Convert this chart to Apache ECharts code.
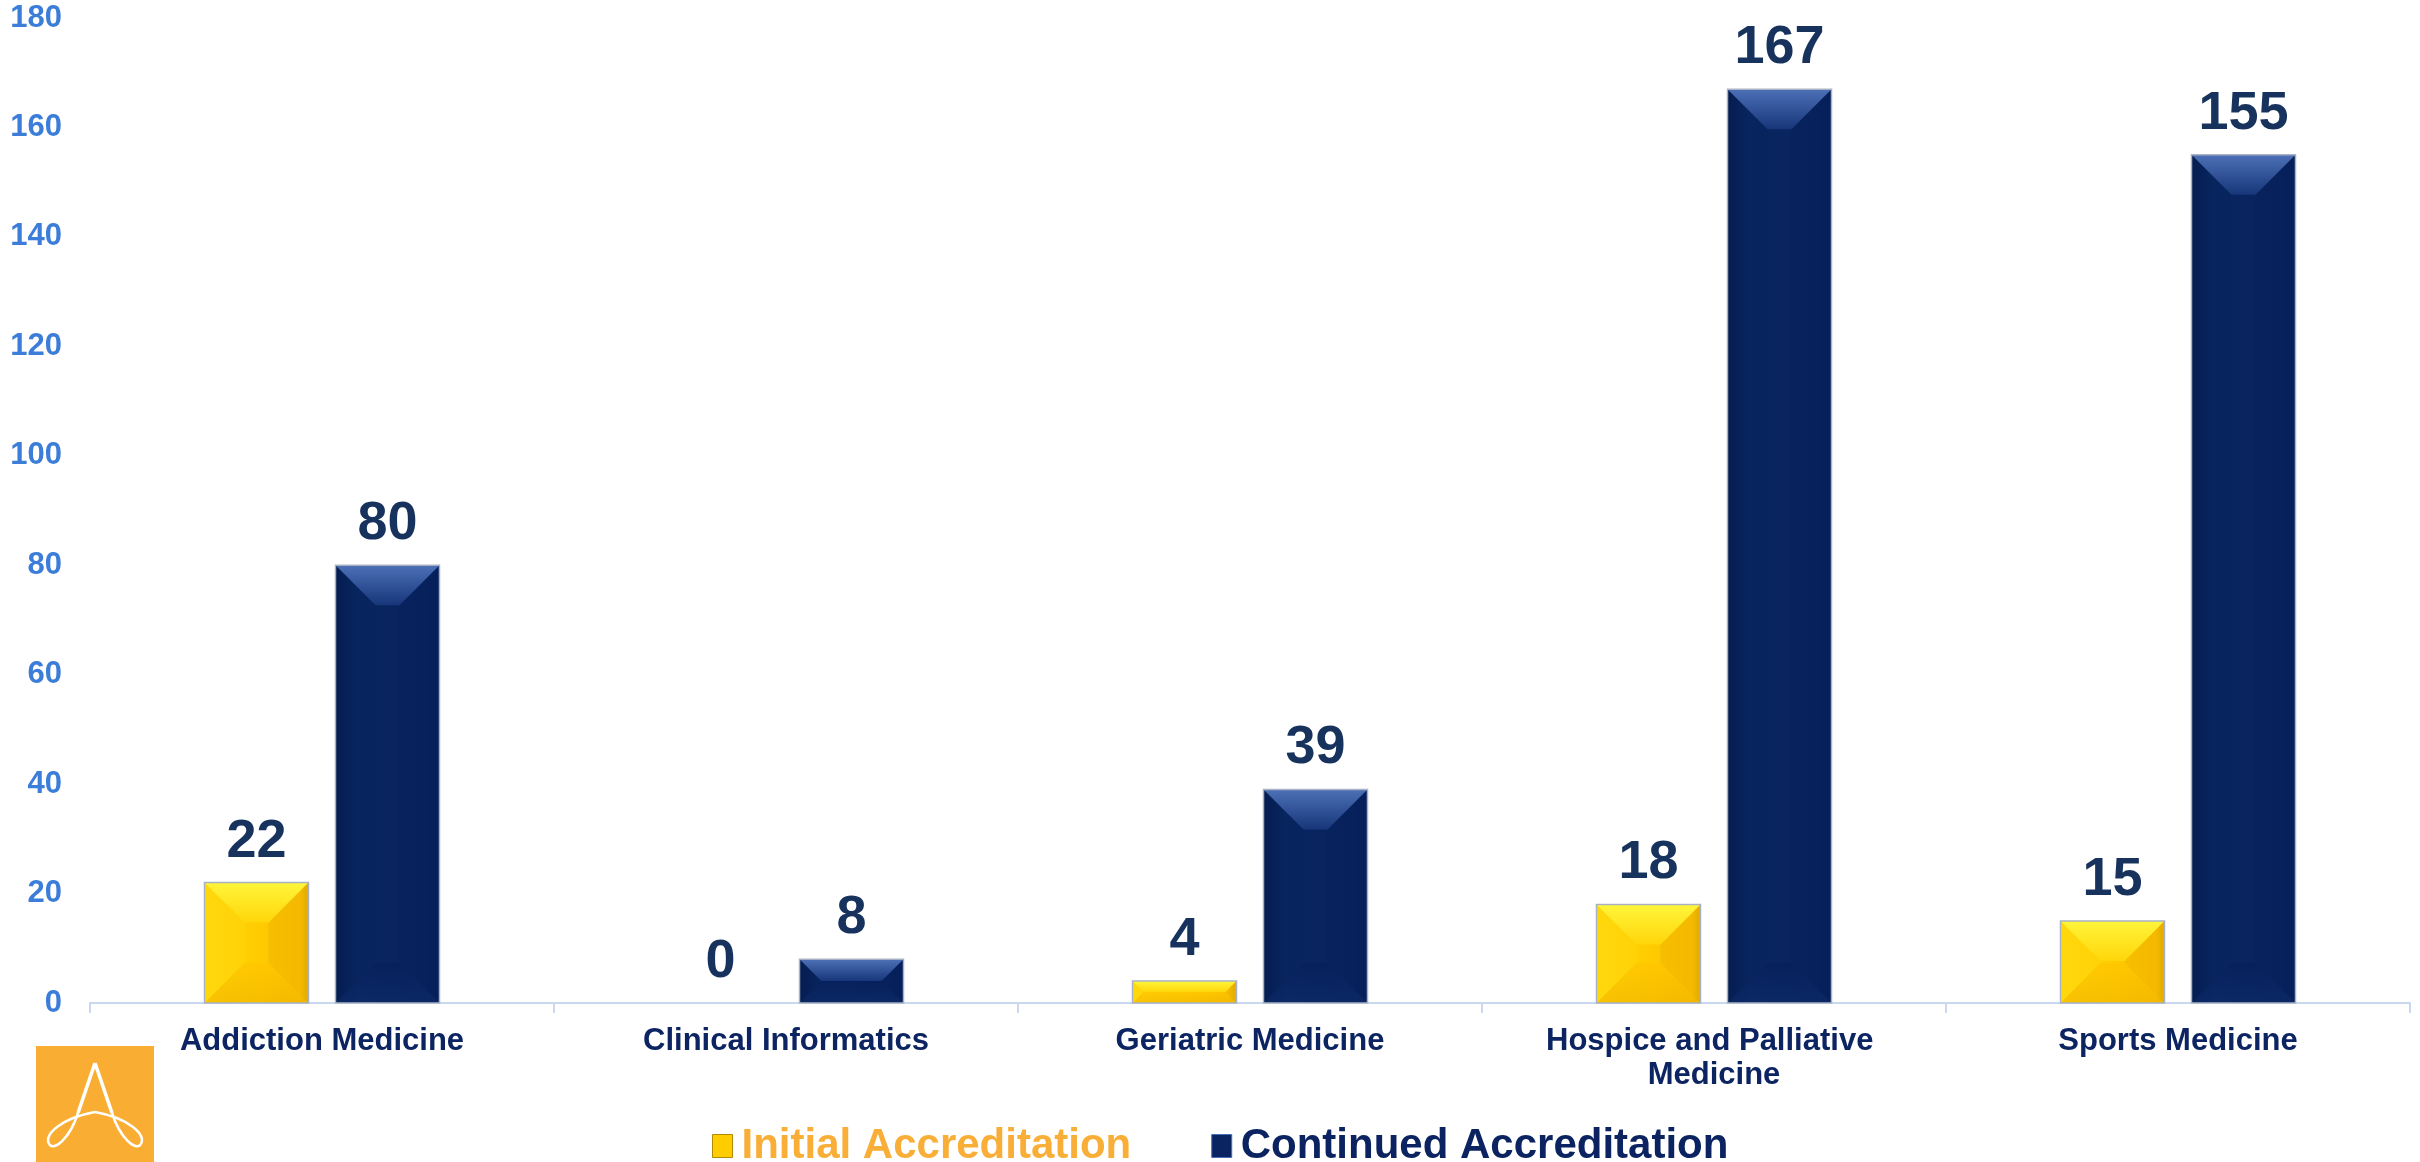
<!DOCTYPE html>
<html>
<head>
<meta charset="utf-8">
<script src="https://cdn.jsdelivr.net/npm/echarts@6/dist/echarts.min.js"></script>
<style>
html,body{margin:0;padding:0;background:#fff;}
#chart{width:2420px;height:1162px;}
</style>
</head>
<body>
<div id="chart"></div>
<script>
const categories = ['Addiction Medicine', 'Clinical Informatics', 'Geriatric Medicine', 'Hospice and Palliative Medicine', 'Sports Medicine'];
const initialAccreditation = [22, 0, 4, 18, 15];
const continuedAccreditation = [80, 8, 39, 167, 155];
const seriesNames = ['Initial Accreditation', 'Continued Accreditation'];
const yTicks = { min: 0, max: 180, interval: 20 };

const BAR_W = 104;
const BAR_GAP = 27;
const OFFSET = (BAR_W + BAR_GAP) / 2;
const FONT = 'Liberation Sans, Arial, sans-serif';

function lin(x2, y2, stops) {
  return { type: 'linear', x: 0, y: 0, x2: x2, y2: y2, global: false,
    colorStops: stops.map(s => ({ offset: s[0], color: s[1] })) };
}

const yellowBase = lin(1, 0, [[0, '#ffd90e'], [0.5, '#ffcc00'], [0.92, '#f7bd00'], [1, '#d9a200']]);
const navyBase = lin(1, 0, [[0, '#041a4c'], [0.2, '#0a2660'], [0.85, '#08235e'], [1, '#05205c']]);

const bevel = {
  yellow: { top: ['#fff53a', '#ffd60a'], bottom: ['#f2b800', '#ffc600'], left: '#ffd80c', right: '#f0b400', sideOp: 0.45 },
  navy: { top: ['#4d70b6', '#17367a'], bottom: ['#0c2a68', '#061f5a'], left: '#08235c', right: '#061f5a', sideOp: 0.3 }
};

function bevelItem(sign, pal) {
  return function (params, api) {
    const i = api.value(0), v = api.value(1);
    const topPt = api.coord([i, v]);
    const basePt = api.coord([i, 0]);
    const cx = topPt[0] + sign * OFFSET;
    const x0 = cx - BAR_W / 2, x1 = cx + BAR_W / 2;
    const y0 = topPt[1], y1 = basePt[1];
    const h = y1 - y0;
    if (h <= 1) return null;
    const d = Math.min(40, h / 2, BAR_W / 2);
    return {
      type: 'group',
      silent: true,
      children: [
        { type: 'polygon', shape: { points: [[x0, y0 + 1], [x0 + d, y0 + d], [x0 + d, y1 - d], [x0, y1]] },
          style: { fill: pal.left, opacity: pal.sideOp } },
        { type: 'polygon', shape: { points: [[x1, y0 + 1], [x1 - d, y0 + d], [x1 - d, y1 - d], [x1, y1]] },
          style: { fill: pal.right, opacity: pal.sideOp } },
        { type: 'polygon', shape: { points: [[x0, y0], [x1, y0], [x1 - d, y0 + d], [x0 + d, y0 + d]] },
          style: { fill: lin(0, 1, [[0, pal.top[0]], [1, pal.top[1]]]) } },
        { type: 'polygon', shape: { points: [[x0, y1], [x1, y1], [x1 - d, y1 - d], [x0 + d, y1 - d]] },
          style: { fill: lin(0, 1, [[0, pal.bottom[1]], [1, pal.bottom[0]]]), opacity: 0.7 } },
        { type: 'rect', shape: { x: x0, y: y0, width: BAR_W, height: h },
          style: { fill: 'none', stroke: '#a9b2c4', lineWidth: 1.5 } }
      ]
    };
  };
}

const labelStyle = {
  show: true, position: 'top', distance: 14,
  color: '#17325c', fontSize: 54, fontWeight: 'bold', fontFamily: FONT
};

const logoStroke = { fill: 'none', stroke: '#ffffff', lineWidth: 2.5 };

const chart = echarts.init(document.getElementById('chart'));
chart.setOption({
  backgroundColor: '#ffffff',
  animation: false,
  grid: { left: 90, right: 10, top: 18, bottom: 159, containLabel: false },
  legend: {
    left: 707, bottom: -10,
    icon: 'rect', itemWidth: 20, itemHeight: 23, itemGap: 80,
    textStyle: { fontSize: 42, fontWeight: 'bold', fontFamily: FONT, padding: [0, 0, 0, 4] },
    data: [
      { name: seriesNames[0], textStyle: { color: '#f9ae37' }, itemStyle: { color: '#ffcc00', borderColor: '#b08a00', borderWidth: 1 } },
      { name: seriesNames[1], textStyle: { color: '#0b2461' }, itemStyle: { color: '#0a2462', borderColor: '#4a6fb5', borderWidth: 1 } }
    ]
  },
  xAxis: {
    type: 'category',
    data: categories,
    axisLine: { show: true, lineStyle: { color: '#c9d8ee', width: 2 } },
    axisTick: { show: true, length: 10, lineStyle: { color: '#c9d8ee', width: 2 } },
    axisLabel: {
      interval: 0, margin: 21, color: '#0c2461', fontSize: 31, fontWeight: 'bold',
      fontFamily: FONT, lineHeight: 34, width: 420, overflow: 'break'
    }
  },
  yAxis: {
    type: 'value', min: yTicks.min, max: yTicks.max, interval: yTicks.interval,
    axisLine: { show: false }, axisTick: { show: false }, splitLine: { show: false },
    axisLabel: { color: '#3b7dd8', fontSize: 31, fontWeight: 'bold', fontFamily: FONT, margin: 28 }
  },
  series: [
    {
      name: seriesNames[0], type: 'bar', data: initialAccreditation,
      barWidth: BAR_W, barGap: (BAR_GAP / BAR_W * 100) + '%',
      itemStyle: { color: yellowBase }, label: labelStyle, z: 2
    },
    {
      name: seriesNames[1], type: 'bar', data: continuedAccreditation,
      barWidth: BAR_W,
      itemStyle: { color: navyBase }, label: labelStyle, z: 2
    },
    {
      type: 'custom', name: 'bevel-initial', silent: true, z: 3,
      data: initialAccreditation.map((v, i) => [i, v]),
      renderItem: bevelItem(-1, bevel.yellow)
    },
    {
      type: 'custom', name: 'bevel-continued', silent: true, z: 3,
      data: continuedAccreditation.map((v, i) => [i, v]),
      renderItem: bevelItem(1, bevel.navy)
    }
  ],
  graphic: [
    { type: 'rect', silent: true, shape: { x: 36, y: 1046, width: 118, height: 116 }, style: { fill: '#f9ae33' } },
    { type: 'line', silent: true, shape: { x1: 95, y1: 1063, x2: 78, y2: 1113 }, style: { stroke: '#ffffff', lineWidth: 3.5 } },
    { type: 'line', silent: true, shape: { x1: 95, y1: 1063, x2: 112, y2: 1113 }, style: { stroke: '#ffffff', lineWidth: 3.5 } },
    { type: 'bezierCurve', silent: true, shape: { x1: 78, y1: 1113, cpx1: 70, cpy1: 1138, cpx2: 54, cpy2: 1152, x2: 49, y2: 1144 }, style: logoStroke },
    { type: 'bezierCurve', silent: true, shape: { x1: 49, y1: 1144, cpx1: 44, cpy1: 1134, cpx2: 62, cpy2: 1118, x2: 95, y2: 1112 }, style: logoStroke },
    { type: 'bezierCurve', silent: true, shape: { x1: 112, y1: 1113, cpx1: 120, cpy1: 1138, cpx2: 136, cpy2: 1152, x2: 141, y2: 1144 }, style: logoStroke },
    { type: 'bezierCurve', silent: true, shape: { x1: 141, y1: 1144, cpx1: 146, cpy1: 1134, cpx2: 128, cpy2: 1118, x2: 95, y2: 1112 }, style: logoStroke }
  ]
});
</script>
</body>
</html>
